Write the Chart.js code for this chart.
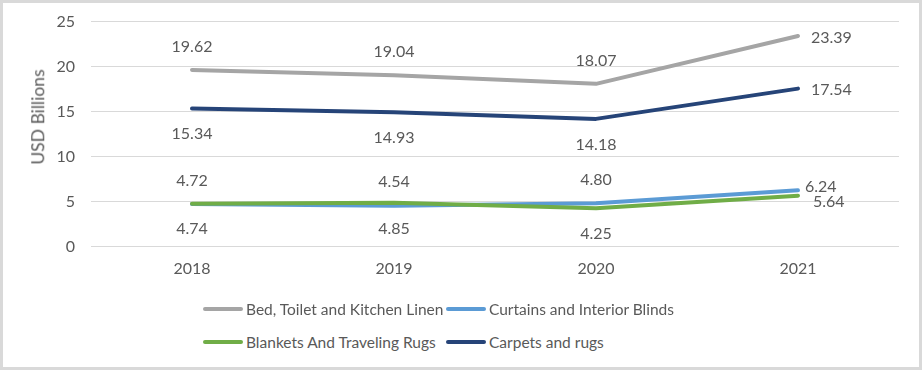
<!DOCTYPE html>
<html>
<head>
<meta charset="utf-8">
<script src="https://cdn.jsdelivr.net/npm/chart.js@4.4.1/dist/chart.umd.min.js"></script>
<style>
  html, body { margin: 0; padding: 0; background: #fff; }
  #frame {
    position: relative; width: 922px; height: 370px; box-sizing: border-box;
    border: 3px solid #d9d9d9; background: #fff;
    font-family: Lato, "Noto Sans", sans-serif; color: #595959;
  }
  #chart { position: absolute; left: 0; top: 0; }
  #yTitle {
    position: absolute; left: 35px; top: 114px; font-size: 17.5px; line-height: 1;
    white-space: nowrap; transform: translate(-50%, -50%) rotate(-90deg);
  }
  .item {
    position: absolute; height: 20px; display: flex; align-items: center;
    font-size: 15.5px; white-space: nowrap;
  }
  .swatch { width: 40px; height: 4px; border-radius: 2px; margin-right: 3px; }
</style>
</head>
<body>
<div id="frame">
  <canvas id="chart" width="916" height="300"></canvas>
  <div id="yTitle">USD Billions</div>
  <div id="legend"></div>
</div>
<script>
const years = ['2018', '2019', '2020', '2021'];
const seriesNames = ['Bed, Toilet and Kitchen Linen', 'Curtains and Interior Blinds', 'Blankets And Traveling Rugs', 'Carpets and rugs'];
const bedLinen = [19.62, 19.04, 18.07, 23.39];
const curtains = [4.72, 4.54, 4.80, 6.24];
const blankets = [4.74, 4.85, 4.25, 5.64];
const carpets = [15.34, 14.93, 14.18, 17.54];
const yTicks = [0, 5, 10, 15, 20, 25];

const colors = ['#a5a5a5', '#5b9bd5', '#70ad47', '#264478'];
const textColor = '#595959';
const font = { family: 'Lato, "Noto Sans", sans-serif', size: 16 };

// where each series puts its value labels (last point goes to the right)
const labelSide = ['above', 'above', 'below', 'below'];
const rightShift = [[13, 2], [7, -3], [15, 6], [13, 1.5]];

const valueLabels = {
  id: 'valueLabels',
  afterDatasetsDraw(chart) {
    const ctx = chart.ctx;
    ctx.save();
    ctx.font = font.size + 'px ' + font.family;
    ctx.fillStyle = textColor;
    ctx.textBaseline = 'middle';
    chart.data.datasets.forEach((ds, i) => {
      const meta = chart.getDatasetMeta(i);
      meta.data.forEach((pt, j) => {
        const txt = ds.data[j].toFixed(2);
        if (j === ds.data.length - 1) {
          ctx.textAlign = 'left';
          ctx.fillText(txt, pt.x + rightShift[i][0], pt.y + rightShift[i][1]);
        } else {
          ctx.textAlign = 'center';
          ctx.fillText(txt, pt.x, labelSide[i] === 'above' ? pt.y - 23.5 : pt.y + 25.5);
        }
      });
    });
    ctx.restore();
  }
};

const allData = [bedLinen, curtains, blankets, carpets];

const chart = new Chart(document.getElementById('chart'), {
  type: 'line',
  data: {
    labels: years,
    datasets: allData.map((d, i) => ({
      label: seriesNames[i],
      data: d,
      borderColor: colors[i],
      backgroundColor: colors[i],
      borderWidth: 4,
      borderCapStyle: 'round',
      borderJoinStyle: 'round',
      pointRadius: 0,
      tension: 0,
      order: 3 - i
    }))
  },
  options: {
    responsive: false,
    animation: false,
    layout: { padding: { left: 0, right: 20, top: 18.5, bottom: 0 } },
    plugins: { legend: { display: false }, tooltip: { enabled: false } },
    scales: {
      x: {
        offset: true,
        grid: { display: false, drawTicks: false },
        border: { display: false },
        ticks: { color: textColor, font: font, padding: 12.5, maxRotation: 0 },
        afterFit: s => { s.height = 56.5; }
      },
      y: {
        min: 0,
        max: 25,
        afterBuildTicks: s => { s.ticks = yTicks.map(v => ({ value: v })); },
        grid: { color: '#d9d9d9', lineWidth: 1, drawTicks: false },
        border: { display: false },
        ticks: { color: textColor, font: font, padding: 16 },
        // fixed axis width; drop the label padding so the plot top follows layout.padding
        afterFit: s => { s.width = 88; s.paddingTop = 0; s.paddingBottom = 0; }
      }
    }
  },
  plugins: [valueLabels]
});

// legend laid out as a two-column grid like the original
const legend = document.getElementById('legend');
const spots = [[200, 296], [443, 296], [200, 329], [443, 329]];
seriesNames.forEach((name, i) => {
  const el = document.createElement('div');
  el.className = 'item';
  el.style.left = spots[i][0] + 'px';
  el.style.top = spots[i][1] + 'px';
  el.innerHTML = '<span class="swatch" style="background:' + colors[i] + '"></span><span>' + name + '</span>';
  legend.appendChild(el);
});
</script>
</body>
</html>
